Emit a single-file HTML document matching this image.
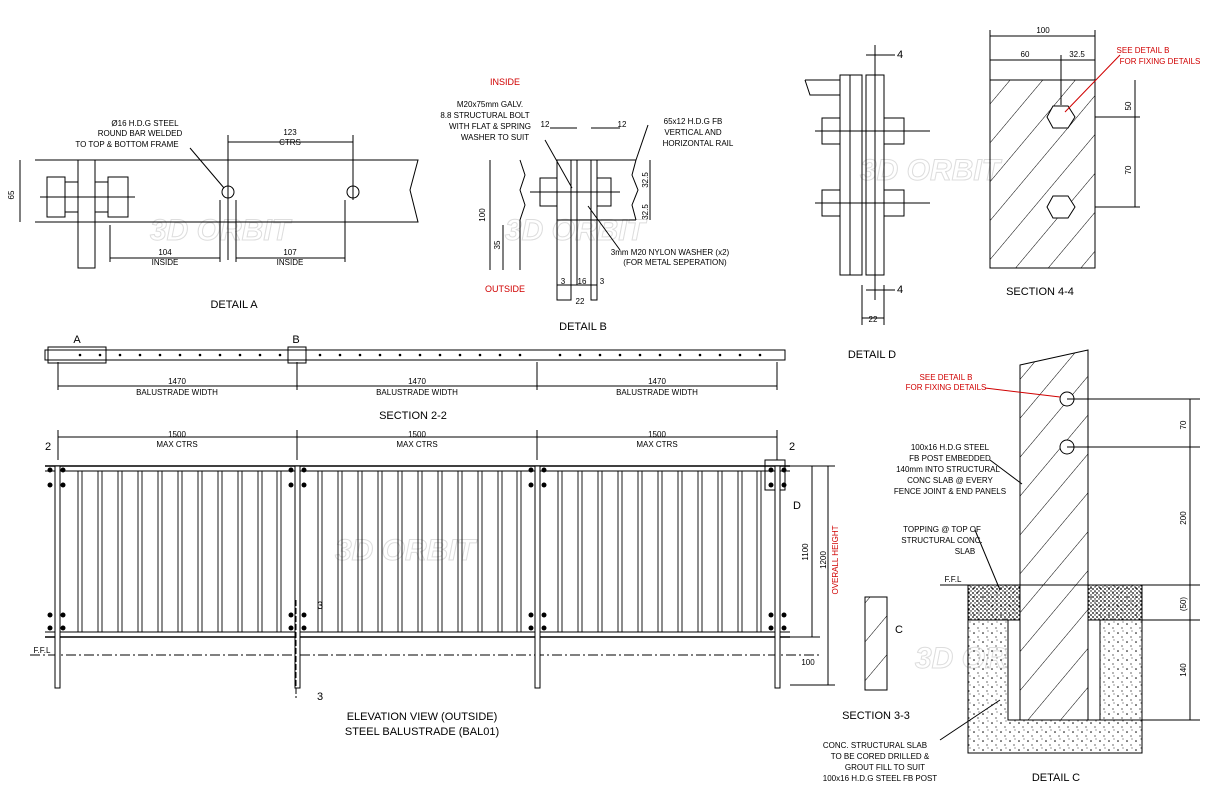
<!DOCTYPE html>
<html><head><meta charset="utf-8"><style>
html,body{margin:0;padding:0;background:#fff;width:1232px;height:800px;overflow:hidden}
svg{display:block}
text{font-family:"Liberation Sans",sans-serif;fill:#000}
.s{font-size:8px}
.t{font-size:11px}
.r{fill:#d00000}
.w{font-size:30px;font-style:italic;font-weight:bold;fill:none;stroke:#ddd;stroke-width:1}
</style></head><body>
<svg width="1232" height="800" viewBox="0 0 1232 800" xmlns="http://www.w3.org/2000/svg">
<defs>
<pattern id="hat" width="25" height="25" patternUnits="userSpaceOnUse" patternTransform="rotate(40)">
<line x1="0" y1="0" x2="0" y2="25" stroke="#000" stroke-width="1"/></pattern>
<pattern id="dots" width="9" height="9" patternUnits="userSpaceOnUse">
<circle cx="2" cy="3" r="0.8" fill="#000"/><circle cx="6" cy="7" r="0.6" fill="#000"/><circle cx="7" cy="1" r="0.5" fill="#000"/></pattern>
<pattern id="dense" width="4" height="4" patternUnits="userSpaceOnUse">
<circle cx="1" cy="1" r="0.9" fill="#000"/><circle cx="3" cy="3" r="0.7" fill="#000"/></pattern>
</defs>
<text x="150" y="240" class="w">3D ORBIT</text>
<text x="505" y="240" class="w">3D ORBIT</text>
<text x="860" y="180" class="w">3D ORBIT</text>
<text x="335" y="560" class="w">3D ORBIT</text>
<text x="915" y="668" class="w">3D ORBIT</text>
<g fill="none" stroke="#000" stroke-width="1">

<path d="M35 160 H418 L410 190 L418 222 H35"/>
<rect x="78" y="160" width="17" height="108"/>
<rect x="47" y="177" width="18" height="40"/><rect x="65" y="182" width="13" height="30"/>
<rect x="95" y="182" width="13" height="30"/><rect x="108" y="177" width="20" height="40"/>
<line x1="40" y1="197" x2="135" y2="197"/>
<circle cx="228" cy="192" r="6"/><circle cx="353" cy="192" r="6"/>
<line x1="228" y1="135" x2="228" y2="260"/><line x1="353" y1="135" x2="353" y2="200"/>
<line x1="228" y1="142" x2="353" y2="142"/>
<line x1="110" y1="258" x2="220" y2="258"/><line x1="236" y1="258" x2="345" y2="258"/>
<line x1="110" y1="225" x2="110" y2="262"/><line x1="220" y1="200" x2="220" y2="262"/><line x1="236" y1="200" x2="236" y2="262"/><line x1="345" y1="200" x2="345" y2="262"/>
<line x1="20" y1="160" x2="20" y2="222"/>
<line x1="190" y1="148" x2="224" y2="188"/>

<path d="M520 160 L525 175 L520 190 L525 205 L520 220 L520 270"/>
<rect x="557" y="160" width="14" height="140"/><rect x="577" y="160" width="14" height="125"/><rect x="591" y="160" width="6" height="140"/>
<path d="M636 160 L632 175 L638 190 L632 205 L636 220"/>
<line x1="557" y1="160" x2="636" y2="160"/><line x1="557" y1="220" x2="636" y2="220"/>
<rect x="540" y="178" width="17" height="28"/><rect x="597" y="178" width="14" height="28"/>
<line x1="530" y1="192" x2="620" y2="192"/>
<line x1="490" y1="160" x2="490" y2="270"/><line x1="503" y1="225" x2="503" y2="270"/>
<line x1="650" y1="160" x2="650" y2="220"/>
<line x1="557" y1="285" x2="597" y2="285"/><line x1="550" y1="128" x2="577" y2="128"/><line x1="591" y1="128" x2="620" y2="128"/>
<line x1="545" y1="140" x2="572" y2="188"/><line x1="648" y1="125" x2="636" y2="160"/><line x1="620" y1="250" x2="588" y2="206"/>

<path d="M805 80 L810 95 H840"/><path d="M805 80 H840"/>
<rect x="840" y="75" width="10" height="200"/><rect x="850" y="75" width="12" height="200"/><rect x="866" y="75" width="18" height="200"/>
<rect x="822" y="118" width="18" height="26"/><rect x="884" y="118" width="20" height="26"/>
<rect x="822" y="190" width="18" height="26"/><rect x="884" y="190" width="20" height="26"/>
<line x1="815" y1="131" x2="930" y2="131"/><line x1="815" y1="203" x2="930" y2="203"/>
<line x1="875" y1="45" x2="875" y2="300"/><line x1="866" y1="55" x2="895" y2="55"/><line x1="866" y1="290" x2="895" y2="290"/>
<line x1="862" y1="318" x2="884" y2="318"/><line x1="862" y1="285" x2="862" y2="325"/><line x1="884" y1="285" x2="884" y2="325"/>

<rect x="990" y="80" width="105" height="188" fill="url(#hat)"/>
<polygon points="1047,117 1053,106 1068,106 1075,117 1068,128 1053,128" fill="#fff"/>
<polygon points="1047,207 1053,196 1068,196 1075,207 1068,218 1053,218" fill="#fff"/>
<line x1="990" y1="36" x2="1095" y2="36"/><line x1="990" y1="30" x2="990" y2="80"/><line x1="1095" y1="30" x2="1095" y2="80"/>
<line x1="990" y1="60" x2="1095" y2="60"/><line x1="1061" y1="55" x2="1061" y2="105"/>
<line x1="1135" y1="80" x2="1135" y2="207"/><line x1="1095" y1="117" x2="1140" y2="117"/><line x1="1095" y1="207" x2="1140" y2="207"/>
<line x1="1120" y1="55" x2="1065" y2="112" stroke="#d00000"/>

<rect x="45" y="350" width="740" height="10"/>
<rect x="48" y="347" width="58" height="16"/><rect x="288" y="347" width="18" height="16"/>
<line x1="58" y1="362" x2="58" y2="390"/><line x1="297" y1="362" x2="297" y2="390"/><line x1="537" y1="362" x2="537" y2="390"/><line x1="777" y1="362" x2="777" y2="390"/>
<line x1="58" y1="386" x2="777" y2="386"/>

<line x1="45" y1="466" x2="790" y2="466" stroke-width="1.5"/><line x1="45" y1="471" x2="790" y2="471"/>
<line x1="45" y1="632" x2="790" y2="632"/><line x1="45" y1="637" x2="790" y2="637" stroke-width="1.5"/>
<line x1="30" y1="655" x2="820" y2="655" stroke-dasharray="10 3 2 3"/>
<line x1="58" y1="437" x2="777" y2="437"/>
<line x1="58" y1="430" x2="58" y2="460"/><line x1="297" y1="430" x2="297" y2="460"/><line x1="537" y1="430" x2="537" y2="460"/><line x1="777" y1="430" x2="777" y2="460"/>
<line x1="828" y1="466" x2="828" y2="655"/><line x1="812" y1="466" x2="812" y2="637"/><line x1="828" y1="655" x2="828" y2="685"/>
<line x1="790" y1="466" x2="835" y2="466"/><line x1="790" y1="637" x2="820" y2="637"/><line x1="790" y1="685" x2="835" y2="685"/>
<rect x="765" y="460" width="20" height="30"/>
</g>
<g fill="#fff" stroke="#000" stroke-width="1">
<rect x="55" y="466" width="5" height="222"/><rect x="295" y="466" width="5" height="222"/>
<rect x="535" y="466" width="5" height="222"/><rect x="775" y="466" width="5" height="222"/>
</g>
<g fill="none" stroke="#000" stroke-width="0.9">
<rect x="78" y="471" width="4" height="161"/><rect x="98" y="471" width="4" height="161"/><rect x="118" y="471" width="4" height="161"/><rect x="138" y="471" width="4" height="161"/><rect x="158" y="471" width="4" height="161"/><rect x="178" y="471" width="4" height="161"/><rect x="198" y="471" width="4" height="161"/><rect x="218" y="471" width="4" height="161"/><rect x="238" y="471" width="4" height="161"/><rect x="258" y="471" width="4" height="161"/><rect x="277" y="471" width="4" height="161"/>
<rect x="318" y="471" width="4" height="161"/><rect x="338" y="471" width="4" height="161"/><rect x="358" y="471" width="4" height="161"/><rect x="378" y="471" width="4" height="161"/><rect x="398" y="471" width="4" height="161"/><rect x="418" y="471" width="4" height="161"/><rect x="438" y="471" width="4" height="161"/><rect x="458" y="471" width="4" height="161"/><rect x="478" y="471" width="4" height="161"/><rect x="498" y="471" width="4" height="161"/><rect x="517" y="471" width="4" height="161"/>
<rect x="558" y="471" width="4" height="161"/><rect x="578" y="471" width="4" height="161"/><rect x="598" y="471" width="4" height="161"/><rect x="618" y="471" width="4" height="161"/><rect x="638" y="471" width="4" height="161"/><rect x="658" y="471" width="4" height="161"/><rect x="678" y="471" width="4" height="161"/><rect x="698" y="471" width="4" height="161"/><rect x="718" y="471" width="4" height="161"/><rect x="738" y="471" width="4" height="161"/><rect x="757" y="471" width="4" height="161"/>
</g>
<g fill="#000">
<circle cx="50" cy="470" r="2.5"/><circle cx="63" cy="470" r="2.5"/><circle cx="50" cy="485" r="2.5"/><circle cx="63" cy="485" r="2.5"/>
<circle cx="50" cy="615" r="2.5"/><circle cx="63" cy="615" r="2.5"/><circle cx="50" cy="628" r="2.5"/><circle cx="63" cy="628" r="2.5"/>
<circle cx="291" cy="470" r="2.5"/><circle cx="304" cy="470" r="2.5"/><circle cx="291" cy="485" r="2.5"/><circle cx="304" cy="485" r="2.5"/>
<circle cx="291" cy="615" r="2.5"/><circle cx="304" cy="615" r="2.5"/><circle cx="291" cy="628" r="2.5"/><circle cx="304" cy="628" r="2.5"/>
<circle cx="531" cy="470" r="2.5"/><circle cx="544" cy="470" r="2.5"/><circle cx="531" cy="485" r="2.5"/><circle cx="544" cy="485" r="2.5"/>
<circle cx="531" cy="615" r="2.5"/><circle cx="544" cy="615" r="2.5"/><circle cx="531" cy="628" r="2.5"/><circle cx="544" cy="628" r="2.5"/>
<circle cx="771" cy="470" r="2.5"/><circle cx="784" cy="470" r="2.5"/><circle cx="771" cy="485" r="2.5"/><circle cx="784" cy="485" r="2.5"/>
<circle cx="771" cy="615" r="2.5"/><circle cx="784" cy="615" r="2.5"/><circle cx="771" cy="628" r="2.5"/><circle cx="784" cy="628" r="2.5"/>
</g>
<g fill="#000">
<circle cx="80" cy="355" r="1.3"/><circle cx="100" cy="355" r="1.3"/><circle cx="120" cy="355" r="1.3"/><circle cx="140" cy="355" r="1.3"/><circle cx="160" cy="355" r="1.3"/><circle cx="180" cy="355" r="1.3"/><circle cx="200" cy="355" r="1.3"/><circle cx="220" cy="355" r="1.3"/><circle cx="240" cy="355" r="1.3"/><circle cx="260" cy="355" r="1.3"/><circle cx="280" cy="355" r="1.3"/>
<circle cx="320" cy="355" r="1.3"/><circle cx="340" cy="355" r="1.3"/><circle cx="360" cy="355" r="1.3"/><circle cx="380" cy="355" r="1.3"/><circle cx="400" cy="355" r="1.3"/><circle cx="420" cy="355" r="1.3"/><circle cx="440" cy="355" r="1.3"/><circle cx="460" cy="355" r="1.3"/><circle cx="480" cy="355" r="1.3"/><circle cx="500" cy="355" r="1.3"/><circle cx="520" cy="355" r="1.3"/>
<circle cx="560" cy="355" r="1.3"/><circle cx="580" cy="355" r="1.3"/><circle cx="600" cy="355" r="1.3"/><circle cx="620" cy="355" r="1.3"/><circle cx="640" cy="355" r="1.3"/><circle cx="660" cy="355" r="1.3"/><circle cx="680" cy="355" r="1.3"/><circle cx="700" cy="355" r="1.3"/><circle cx="720" cy="355" r="1.3"/><circle cx="740" cy="355" r="1.3"/><circle cx="760" cy="355" r="1.3"/>
</g>

<rect x="865" y="597" width="22" height="93" fill="url(#hat)" stroke="#000"/>
<line x1="296" y1="600" x2="296" y2="698" stroke="#000" stroke-dasharray="6 2"/>

<g stroke="#000" fill="none">
<rect x="968" y="585" width="174" height="168" fill="url(#dots)"/>
<rect x="968" y="585" width="52" height="35" fill="url(#dense)"/>
<rect x="1088" y="585" width="54" height="35" fill="url(#dense)"/>
<path d="M1008 620 V720 H1100 V620 H1088 V585 H1020 V620 Z" fill="#fff"/>
<path d="M1020 365 L1088 350 V720 H1020 Z" fill="url(#hat)"/>
<circle cx="1067" cy="399" r="7" fill="#fff"/><circle cx="1067" cy="447" r="7" fill="#fff"/>
<line x1="1067" y1="399" x2="1200" y2="399"/><line x1="1067" y1="447" x2="1200" y2="447"/>
<line x1="1190" y1="399" x2="1190" y2="720"/>
<line x1="1088" y1="585" x2="1200" y2="585"/><line x1="1100" y1="620" x2="1200" y2="620"/><line x1="1100" y1="720" x2="1200" y2="720"/>
<line x1="940" y1="585" x2="968" y2="585"/>
<line x1="985" y1="388" x2="1060" y2="397" stroke="#d00000"/>
<line x1="990" y1="460" x2="1022" y2="484"/><line x1="975" y1="530" x2="1000" y2="590"/>
<line x1="940" y1="740" x2="1000" y2="700"/>
</g>

<g class="s" text-anchor="middle">
<text x="145" y="126">Ø16 H.D.G STEEL</text><text x="140" y="136">ROUND BAR WELDED</text><text x="127" y="147">TO TOP &amp; BOTTOM FRAME</text>
<text x="290" y="135">123</text><text x="290" y="145">CTRS</text>
<text x="165" y="255">104</text><text x="165" y="265">INSIDE</text><text x="290" y="255">107</text><text x="290" y="265">INSIDE</text>
<text x="14" y="195" transform="rotate(-90 14 195)">65</text>
<text x="490" y="107">M20x75mm GALV.</text><text x="485" y="118">8.8 STRUCTURAL BOLT</text><text x="490" y="129">WITH FLAT &amp; SPRING</text><text x="495" y="140">WASHER TO SUIT</text>
<text x="545" y="127">12</text><text x="622" y="127">12</text>
<text x="693" y="124">65x12 H.D.G FB</text><text x="693" y="135">VERTICAL AND</text><text x="698" y="146">HORIZONTAL RAIL</text>
<text x="485" y="215" transform="rotate(-90 485 215)">100</text><text x="500" y="245" transform="rotate(-90 500 245)">35</text>
<text x="648" y="180" transform="rotate(-90 648 180)">32.5</text><text x="648" y="212" transform="rotate(-90 648 212)">32.5</text>
<text x="670" y="255">3mm M20 NYLON WASHER (x2)</text><text x="675" y="265">(FOR METAL SEPERATION)</text>
<text x="563" y="284">3</text><text x="582" y="284">16</text><text x="602" y="284">3</text><text x="580" y="304">22</text>
<text x="873" y="322">22</text>
<text x="1043" y="33">100</text><text x="1025" y="57">60</text><text x="1077" y="57">32.5</text>
<text x="1131" y="106" transform="rotate(-90 1131 106)">50</text><text x="1131" y="170" transform="rotate(-90 1131 170)">70</text>
<text x="1143" y="53" class="r">SEE DETAIL B</text><text x="1160" y="64" class="r">FOR FIXING DETAILS</text>
<text x="177" y="384">1470</text><text x="177" y="395">BALUSTRADE WIDTH</text>
<text x="417" y="384">1470</text><text x="417" y="395">BALUSTRADE WIDTH</text>
<text x="657" y="384">1470</text><text x="657" y="395">BALUSTRADE WIDTH</text>
<text x="177" y="437">1500</text><text x="177" y="447">MAX CTRS</text>
<text x="417" y="437">1500</text><text x="417" y="447">MAX CTRS</text>
<text x="657" y="437">1500</text><text x="657" y="447">MAX CTRS</text>
<text x="808" y="552" transform="rotate(-90 808 552)">1100</text>
<text x="826" y="560" transform="rotate(-90 826 560)">1200</text>
<text x="838" y="560" transform="rotate(-90 838 560)" class="r">OVERALL HEIGHT</text>
<text x="808" y="665">100</text>
<text x="946" y="380" class="r">SEE DETAIL B</text><text x="946" y="390" class="r">FOR FIXING DETAILS</text>
<text x="950" y="450">100x16 H.D.G STEEL</text><text x="950" y="461">FB POST EMBEDDED</text><text x="948" y="472">140mm  INTO STRUCTURAL</text><text x="950" y="483">CONC SLAB @ EVERY</text><text x="950" y="494">FENCE JOINT &amp; END PANELS</text>
<text x="942" y="532">TOPPING @ TOP OF</text><text x="942" y="543">STRUCTURAL CONC.</text><text x="965" y="554">SLAB</text>
<text x="953" y="582">F.F.L</text><text x="42" y="653">F.F.L</text>
<text x="875" y="748">CONC. STRUCTURAL SLAB</text><text x="880" y="759">TO BE CORED DRILLED &amp;</text><text x="885" y="770">GROUT FILL TO SUIT</text><text x="880" y="781">100x16 H.D.G STEEL FB POST</text>
<text x="1186" y="425" transform="rotate(-90 1186 425)">70</text><text x="1186" y="518" transform="rotate(-90 1186 518)">200</text>
<text x="1186" y="604" transform="rotate(-90 1186 604)">(50)</text><text x="1186" y="670" transform="rotate(-90 1186 670)">140</text>
</g>
<g class="t" text-anchor="middle">
<text x="234" y="308">DETAIL A</text><text x="583" y="330">DETAIL B</text><text x="872" y="358">DETAIL D</text>
<text x="1040" y="295">SECTION 4-4</text><text x="413" y="419">SECTION 2-2</text>
<text x="422" y="720">ELEVATION VIEW (OUTSIDE)</text><text x="422" y="735">STEEL BALUSTRADE (BAL01)</text>
<text x="876" y="719">SECTION 3-3</text><text x="1056" y="781">DETAIL C</text>
<text x="505" y="85" class="r" style="font-size:9px">INSIDE</text><text x="505" y="292" class="r" style="font-size:9px">OUTSIDE</text>
<text x="77" y="343">A</text><text x="296" y="343">B</text><text x="48" y="450">2</text><text x="792" y="450">2</text>
<text x="797" y="509">D</text><text x="320" y="609">3</text><text x="320" y="700">3</text><text x="899" y="633">C</text>
<text x="900" y="58">4</text><text x="900" y="293">4</text>
</g>
</svg>
</body></html>
